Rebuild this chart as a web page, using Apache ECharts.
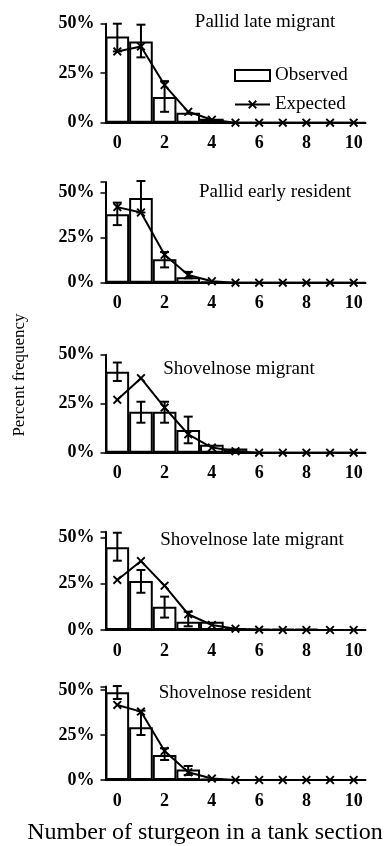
<!DOCTYPE html>
<html>
<head>
<meta charset="utf-8">
<script src="https://cdn.jsdelivr.net/npm/echarts@6/dist/echarts.min.js"></script>
<style>
html,body{margin:0;padding:0;background:#fff;}
#chart{width:384px;height:846px;}
</style>
</head>
<body>
<div id="chart"></div>
<script>
// ---- data ----
const categories = ['0','1','2','3','4','5','6','7','8','9','10'];
const panelTitles = ['Pallid late migrant','Pallid early resident','Shovelnose migrant','Shovelnose late migrant','Shovelnose resident'];

const observed1 = [43.5, 41, 13, 5, 2, 0, 0, 0, 0, 0, 0];
const expected1 = [36, 38.5, 19, 5.5, 1.5, 0, 0, 0, 0, 0, 0];
const errors1 = [[0, 36, 50], [1, 33, 49.5], [2, 5.5, 21]];

const observed2 = [38, 47, 13, 3, 0.5, 0, 0, 0, 0, 0, 0];
const expected2 = [42, 39, 15.5, 4.3, 0.8, 0, 0, 0, 0, 0, 0];
const errors2 = [[0, 32, 44.5], [1, 39, 56.5], [2, 8.5, 17], [3, 2.5, 6]];

const observed3 = [41.3, 20.9, 20.9, 11.6, 4, 2.2, 0, 0, 0, 0, 0];
const expected3 = [27, 38, 23, 9.4, 2.6, 0.8, 0, 0, 0, 0, 0];
const errors3 = [[0, 36.6, 46], [1, 15.3, 26], [2, 15.3, 26], [3, 4.8, 18.4]];

const observed4 = [44.6, 26.4, 12.6, 4.5, 4.5, 1, 0.5, 0.5, 0.5, 0, 0];
const expected4 = [27, 37.2, 23.9, 8.5, 2.7, 0.7, 0.2, 0, 0, 0, 0];
const errors4 = [[0, 37.4, 52.5], [1, 20.1, 32.4], [2, 6.7, 18], [3, 2, 9.9]];

const observed5 = [48.7, 29.3, 13.9, 5.9, 0.5, 0, 0, 0, 0, 0, 0];
const expected5 = [41.7, 38, 16.1, 4.3, 0.8, 0, 0, 0, 0, 0, 0];
const errors5 = [[0, 45, 52.2], [1, 25, 38.5], [2, 11.1, 17.6], [3, 2.8, 7.8]];

const yTicks = [0, 25, 50];
const yMax = [50, 56, 50, 53, 52];

// ---- layout ----
const grids = [
  {top: 23.7, height: 99},
  {top: 181.9, height: 100.8},
  {top: 354.7, height: 98},
  {top: 531.8, height: 98.2},
  {top: 686.4, height: 93.6}
];
const titlePos = [[265, 22], [275, 192], [239, 369], [252, 540], [235, 693]];

const observedAll = [observed1, observed2, observed3, observed4, observed5];
const expectedAll = [expected1, expected2, expected3, expected4, expected5];
const errorsAll = [errors1, errors2, errors3, errors4, errors5];

const FONT = '"Liberation Serif", "Times New Roman", serif';
const crossPath = 'path://M0,1.5L1.5,0L5,3.5L8.5,0L10,1.5L6.5,5L10,8.5L8.5,10L5,6.5L1.5,10L0,8.5L3.5,5Z';

function renderErr(params, api) {
  const x = api.value(0), lo = api.value(1), hi = api.value(2);
  const pLo = api.coord([x, lo]);
  const pHi = api.coord([x, hi]);
  const w = 4.5;
  const st = {stroke: '#000', lineWidth: 2};
  return {
    type: 'group',
    children: [
      {type: 'line', shape: {x1: pLo[0], y1: pLo[1], x2: pHi[0], y2: pHi[1]}, style: st},
      {type: 'line', shape: {x1: pHi[0] - w, y1: pHi[1], x2: pHi[0] + w, y2: pHi[1]}, style: st},
      {type: 'line', shape: {x1: pLo[0] - w, y1: pLo[1], x2: pLo[0] + w, y2: pLo[1]}, style: st}
    ]
  };
}

const gridOpt = [], xAxes = [], yAxes = [], series = [], graphics = [];
for (let i = 0; i < 5; i++) {
  gridOpt.push({left: 105.5, width: 260, top: grids[i].top, height: grids[i].height});
  xAxes.push({
    type: 'category', gridIndex: i, data: categories,
    boundaryGap: true,
    axisLine: {lineStyle: {color: '#000', width: 2}},
    axisTick: {show: false},
    axisLabel: {interval: 1, margin: 12, color: '#000', fontFamily: FONT, fontWeight: 'bold', fontSize: 18},
    splitLine: {show: false}
  });
  yAxes.push({
    type: 'value', gridIndex: i, min: 0, max: yMax[i], interval: 25,
    axisLine: {show: true, lineStyle: {color: '#000', width: 2}},
    axisTick: {show: true, inside: false, length: 5, lineStyle: {color: '#000', width: 1.5}},
    axisLabel: {
      margin: 11, color: '#000', fontFamily: FONT, fontWeight: 'bold', fontSize: 18,
      formatter: v => (yTicks.indexOf(v) >= 0 ? v + '%' : '')
    },
    splitLine: {show: false}
  });
  series.push({
    name: 'Observed', type: 'bar', xAxisIndex: i, yAxisIndex: i,
    data: observedAll[i], barCategoryGap: '0%', z: 1,
    itemStyle: {color: '#fff', borderColor: '#000', borderWidth: 2},
    silent: true
  });
  series.push({
    name: 'Errors' + i, type: 'custom', xAxisIndex: i, yAxisIndex: i,
    data: errorsAll[i], renderItem: renderErr, encode: {x: 0, y: [1, 2]}, z: 2, silent: true
  });
  series.push({
    name: 'Expected', type: 'line', xAxisIndex: i, yAxisIndex: i,
    data: expectedAll[i], z: 3, symbol: crossPath, symbolSize: 9, showSymbol: true,
    lineStyle: {color: '#000', width: 2},
    itemStyle: {color: '#000'},
    animation: false, silent: true
  });
  graphics.push({
    type: 'text', x: titlePos[i][0], y: titlePos[i][1],
    style: {text: panelTitles[i], fill: '#000', font: '19px ' + FONT, textAlign: 'center', textVerticalAlign: 'middle'}
  });
}
graphics.push({
  type: 'text', x: 205, y: 833,
  style: {text: 'Number of sturgeon in a tank section', fill: '#000', font: '24px ' + FONT, textAlign: 'center', textVerticalAlign: 'middle'}
});
graphics.push({
  type: 'text', x: 20, y: 375, rotation: Math.PI / 2,
  style: {text: 'Percent frequency', fill: '#000', font: '17px ' + FONT, textAlign: 'center', textVerticalAlign: 'middle'}
});

const chart = echarts.init(document.getElementById('chart'), null, {renderer: 'canvas'});
chart.setOption({
  animation: false,
  backgroundColor: '#fff',
  grid: gridOpt,
  xAxis: xAxes,
  yAxis: yAxes,
  legend: {
    data: [{name: 'Observed', icon: 'rect'}, {name: 'Expected'}],
    orient: 'vertical', left: 229, top: 61,
    itemWidth: 35, itemHeight: 11, itemGap: 10,
    textStyle: {fontFamily: FONT, fontSize: 19, color: '#000'},
    selectedMode: false
  },
  series: series,
  graphic: graphics
});
</script>
</body>
</html>
